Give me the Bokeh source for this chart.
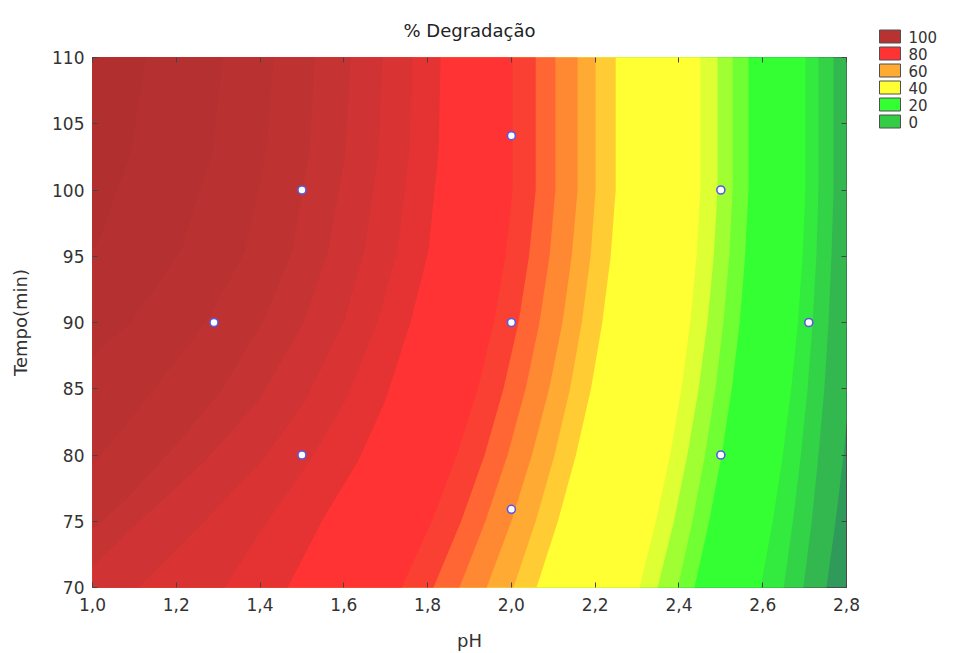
from bokeh.plotting import figure
from bokeh.models import FixedTicker, LinearAxis, ColumnDataSource, Range1d
from bokeh.layouts import row
from bokeh.core.properties import value
from bokeh.embed import file_html
from bokeh.resources import INLINE

# ---------------- data ----------------
x_ticks = [1.0, 1.2, 1.4, 1.6, 1.8, 2.0, 2.2, 2.4, 2.6, 2.8]
x_tick_labels = ["1,0", "1,2", "1,4", "1,6", "1,8", "2,0", "2,2", "2,4", "2,6", "2,8"]
y_ticks = [70, 75, 80, 85, 90, 95, 100, 105, 110]
y_tick_labels = ["70", "75", "80", "85", "90", "95", "100", "105", "110"]

# experimental design points
ph_design = [1.29, 1.5, 1.5, 2.0, 2.0, 2.0, 2.5, 2.5, 2.71]
tempo_design = [90, 100, 80, 104.1, 90, 75.9, 100, 80, 90]

# legend
legend_levels = ["100", "80", "60", "40", "20", "0"]
legend_colors = ["#B83232", "#FF3333", "#FFAA33", "#FFFF33", "#33FF33", "#33CC44"]

# contour band boundaries (pH position of each contour line at given Tempo)
tempo_grid = [110, 100, 95, 90, 85, 80, 75, 70]
ph_b22 = [2.833, 2.833, 2.828, 2.820, 2.808, 2.793, 2.774, 2.752]
ph_b21 = [2.769, 2.769, 2.764, 2.757, 2.747, 2.733, 2.717, 2.697]
ph_b20 = [2.733, 2.733, 2.728, 2.719, 2.707, 2.691, 2.672, 2.650]
ph_b19 = [2.702, 2.702, 2.695, 2.684, 2.668, 2.648, 2.624, 2.595]
ph_b18 = [2.566, 2.566, 2.558, 2.545, 2.526, 2.502, 2.472, 2.437]
ph_b17 = [2.528, 2.528, 2.520, 2.506, 2.487, 2.462, 2.432, 2.397]
ph_b16 = [2.492, 2.492, 2.483, 2.468, 2.447, 2.420, 2.388, 2.349]
ph_b15 = [2.451, 2.451, 2.442, 2.427, 2.406, 2.379, 2.345, 2.306]
ph_b14 = [2.249, 2.249, 2.237, 2.217, 2.190, 2.154, 2.111, 2.060]
ph_b13 = [2.201, 2.201, 2.189, 2.168, 2.140, 2.103, 2.058, 2.005]
ph_b12 = [2.158, 2.158, 2.144, 2.122, 2.090, 2.049, 2.000, 1.941]
ph_b11 = [2.105, 2.105, 2.091, 2.067, 2.034, 1.991, 1.938, 1.876]
ph_b10 = [2.058, 2.058, 2.042, 2.017, 1.981, 1.936, 1.880, 1.814]
ph_b09 = [2.003, 2.003, 1.986, 1.958, 1.920, 1.870, 1.810, 1.738]

# curved lines in the dark-red zone (own Tempo samples)
ph_ba = [1.831, 1.826, 1.802, 1.759, 1.699, 1.635, 1.549, 1.466, 1.425]
t_ba = [110, 102.9, 95.4, 90.0, 84.1, 79.6, 75.1, 70.0, 67.9]
ph_bb = [1.764, 1.757, 1.728, 1.680, 1.604, 1.520, 1.420, 1.315, 1.270]
t_bb = [110, 102.9, 95.4, 90.0, 84.1, 79.6, 75.1, 70.0, 67.9]
ph_bc = [1.692, 1.683, 1.649, 1.599, 1.508, 1.406, 1.270, 1.110, 1.043]
t_bc = [110, 102.9, 95.4, 90.0, 84.1, 79.6, 75.1, 70.0, 68.3]
ph_bd = [1.616, 1.604, 1.563, 1.504, 1.396, 1.270, 1.115, 1.0, 0.924]
t_bd = [110, 102.9, 95.4, 90.0, 84.1, 79.6, 75.1, 71.6, 69.8]
ph_be = [1.530, 1.518, 1.477, 1.406, 1.306, 1.186, 1.079, 1.0, 0.900]
t_be = [110, 102.9, 95.4, 90.0, 84.8, 80.3, 76.6, 74.4, 72.4]
ph_bf = [1.432, 1.415, 1.365, 1.270, 1.162, 1.067, 1.0, 0.900]
t_bf = [110, 102.9, 95.4, 90.0, 85.6, 81.8, 79.3, 77.3]
ph_bg = [1.310, 1.286, 1.210, 1.091, 1.0, 0.900]
t_bg = [110, 102.9, 95.4, 90.0, 87.5, 85.6]
ph_bh = [1.127, 1.091, 1.019, 1.0, 0.924]
t_bh = [110, 102.9, 96.5, 95.4, 93.1]

# colour of the band on the low-pH side of each boundary (right -> left)
band_colors = ["#33B850", "#33D348", "#33EB3E", "#33FF33", "#70FF33", "#A0FF33",
               "#DDFF33", "#FFFF33", "#FFCC33", "#FFAA33", "#FF8833", "#FF6633",
               "#FA4033", "#FF3333", "#E53333", "#DA3333", "#CF3333", "#C53333",
               "#BE3232", "#B93131", "#B53030", "#B12F2F"]
base_color = "#2F9A5A"

boundaries = [
    (ph_b22, tempo_grid), (ph_b21, tempo_grid), (ph_b20, tempo_grid), (ph_b19, tempo_grid),
    (ph_b18, tempo_grid), (ph_b17, tempo_grid), (ph_b16, tempo_grid), (ph_b15, tempo_grid),
    (ph_b14, tempo_grid), (ph_b13, tempo_grid), (ph_b12, tempo_grid), (ph_b11, tempo_grid),
    (ph_b10, tempo_grid), (ph_b09, tempo_grid),
    (ph_ba, t_ba), (ph_bb, t_bb), (ph_bc, t_bc), (ph_bd, t_bd),
    (ph_be, t_be), (ph_bf, t_bf), (ph_bg, t_bg), (ph_bh, t_bh),
]

# region on the low-pH side of each line, closed outside the frame
xs, ys = [], []
for ph, tt in boundaries:
    xs.append([ph[0]] + list(ph) + [ph[-1], 0.5, 0.5])
    ys.append([tt[0] + 3] + list(tt) + [tt[-1] - 3, tt[-1] - 3, tt[0] + 3])

FONT = "DejaVu Sans"
TXT = "#333333"

p = figure(width=870, height=653, x_range=(1.0, 2.8), y_range=(70, 110),
           output_backend="svg", toolbar_location=None,
           min_border_left=92, min_border_right=24, min_border_top=56, min_border_bottom=66,
           title="% Degradação")
p.frame_align = False
p.background_fill_color = base_color
p.border_fill_color = "white"
p.grid.visible = False
p.outline_line_color = "#4a4a4a"
p.outline_line_width = 1

p.title.align = "center"
p.title.text_font = FONT
p.title.text_font_size = "18px"
p.title.text_font_style = "normal"
p.title.text_color = "#222222"
p.title.standoff = 34

src = ColumnDataSource(dict(xs=xs, ys=ys, color=band_colors))
p.patches("xs", "ys", source=src, fill_color="color", line_color=None)

p.scatter(ph_design, tempo_design, marker="circle", size=8, fill_color="white",
          line_color="#5a5ae0", line_width=1.6)

bottom = p.below[0]
left = p.left[0]
top = LinearAxis()
right = LinearAxis()
p.add_layout(top, "above")
p.add_layout(right, "right")

for ax, ticks in ((bottom, x_ticks), (top, x_ticks), (left, y_ticks), (right, y_ticks)):
    ax.ticker = FixedTicker(ticks=ticks)
    ax.major_tick_in = 5
    ax.major_tick_out = 0
    ax.major_tick_line_color = "#444444"
    ax.minor_tick_line_color = None
    ax.axis_line_color = None
    ax.major_label_text_font = FONT
    ax.major_label_text_font_size = "17px"
    ax.major_label_text_color = TXT

top.major_label_overrides = {t: "" for t in x_ticks}
right.major_label_overrides = {t: "" for t in y_ticks}
top.major_label_standoff = 0
right.major_label_standoff = 0

bottom.major_label_overrides = dict(zip(x_ticks, x_tick_labels))
left.major_label_overrides = dict(zip(y_ticks, y_tick_labels))
bottom.major_label_standoff = 10
left.major_label_standoff = 8

bottom.axis_label = "pH"
left.axis_label = "Tempo(min)"
for ax in (bottom, left):
    ax.axis_label_text_font = FONT
    ax.axis_label_text_font_size = "18px"
    ax.axis_label_text_font_style = "normal"
    ax.axis_label_text_color = TXT
bottom.axis_label_standoff = 16
left.axis_label_standoff = 18

# ---------------- legend panel (screen-pixel coordinates) ----------------
leg = figure(width=87, height=653, x_range=Range1d(0, 87), y_range=Range1d(653, 0),
             output_backend="svg", toolbar_location=None, x_axis_type=None, y_axis_type=None,
             min_border=0)
leg.frame_align = False
leg.outline_line_color = None
leg.grid.visible = False
row_y = [36 + 17 * i for i in range(len(legend_levels))]
leg.rect(x=[19.5] * len(legend_levels), y=row_y, width=21, height=13,
         fill_color=legend_colors, line_color="#505050", line_width=1)
leg.text(x=[38] * len(legend_levels), y=row_y, text=legend_levels,
         text_font=value(FONT), text_font_size="15px", text_color=TXT,
         text_baseline="middle")

open("out.html", "w").write(file_html(row(p, leg), INLINE))
